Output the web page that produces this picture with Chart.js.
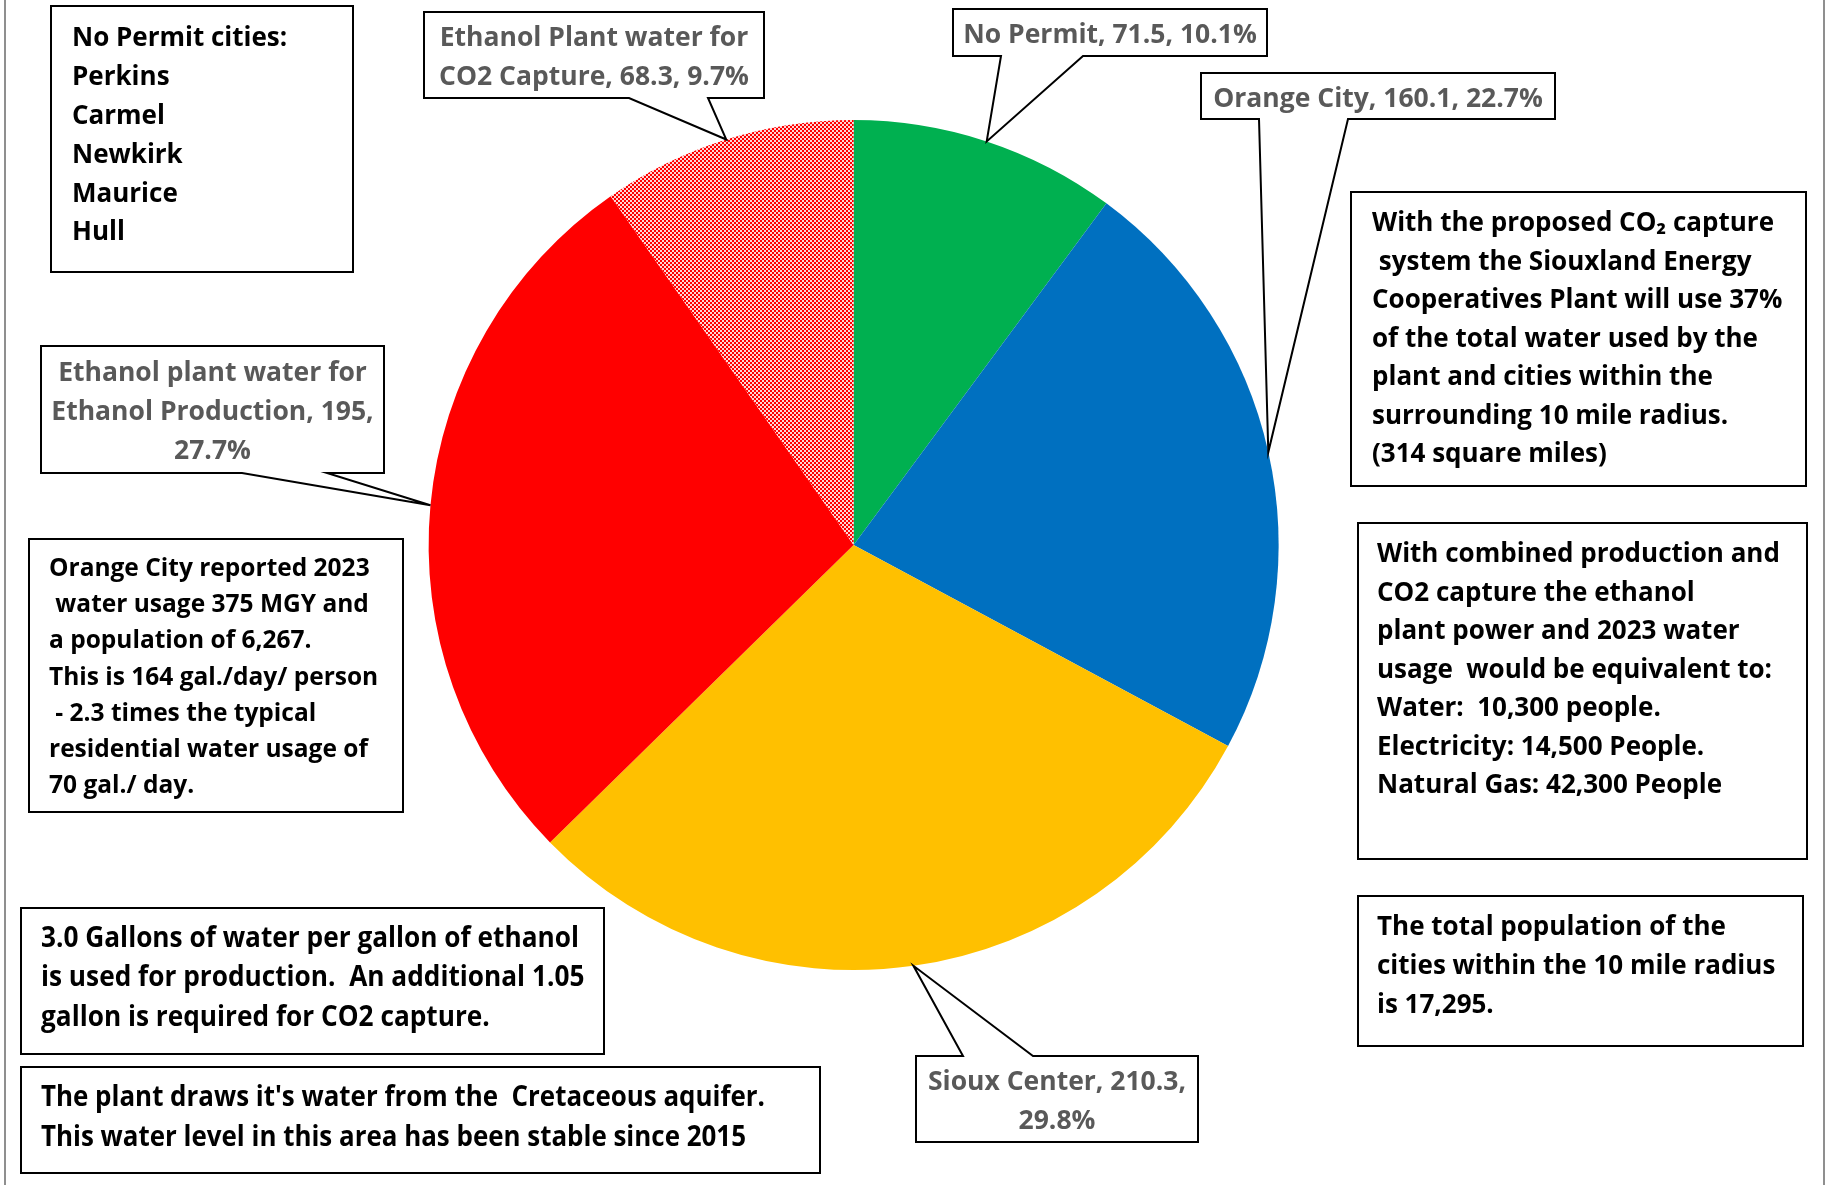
<!DOCTYPE html>
<html>
<head>
<meta charset="utf-8">
<script src="https://cdn.jsdelivr.net/npm/chart.js@4.4.1/dist/chart.umd.min.js"></script>
<style>
html, body { margin: 0; padding: 0; background: #fff; }
#caja { width: 1826px; height: 1185px; position: relative; }
</style>
</head>
<body>
<div id="caja"><canvas id="g_agua"></canvas></div>
<script>
var categorias = ["No Permit", "Orange City", "Sioux Center", "Ethanol plant water for Ethanol Production", "Ethanol Plant water for CO2 Capture"];
var valores = [71.5, 160.1, 210.3, 195, 68.3];
var colores = ["#00B050", "#0070C0", "#FFC000", "#FF0000", "patron"];

// cajas de las etiquetas (mismo orden que categorias)
var cajas_etiqueta = [
    {x: 953, y: 9, w: 314, h: 47, lado: 'abajo', b1: 1001, b2: 1083},
    {x: 1201, y: 73, w: 354, h: 46, lado: 'abajo', b1: 1259, b2: 1348},
    {x: 916, y: 1056, w: 282, h: 86, lado: 'arriba', b1: 963, b2: 1033},
    {x: 41, y: 346, w: 343, h: 127, lado: 'abajo', b1: 242, b2: 327},
    {x: 424, y: 12, w: 340, h: 86, lado: 'abajo', b1: 629, b2: 708}
];

var notas = [
    {x: 51, y: 6, w: 302, h: 266, tx: 72, ty: 39, lh: 38.8, tam: 26,
     lineas: ["No Permit cities:", "Perkins", "Carmel", "Newkirk", "Maurice", "Hull"]},
    {x: 1351, y: 192, w: 455, h: 294, tx: 1372, ty: 224, lh: 38.5, tam: 26,
     lineas: ["With the proposed CO\u2082 capture", " system the Siouxland Energy", "Cooperatives Plant will use 37%", "of the total water used by the", "plant and cities within the", "surrounding 10 mile radius.", "(314 square miles)"]},
    {x: 1358, y: 523, w: 449, h: 336, tx: 1377, ty: 555, lh: 38.5, tam: 26,
     lineas: ["With combined production and", "CO2 capture the ethanol", "plant power and 2023 water", "usage  would be equivalent to:", "Water:  10,300 people.", "Electricity: 14,500 People.", "Natural Gas: 42,300 People"]},
    {x: 1358, y: 896, w: 445, h: 150, tx: 1377, ty: 928, lh: 39, tam: 26,
     lineas: ["The total population of the", "cities within the 10 mile radius", "is 17,295."]},
    {x: 29, y: 539, w: 374, h: 273, tx: 49, ty: 569, lh: 36.2, tam: 24.5,
     lineas: ["Orange City reported 2023", " water usage 375 MGY and", "a population of 6,267.", "This is 164 gal./day/ person", " - 2.3 times the typical", "residential water usage of", "70 gal./ day."]},
    {x: 21, y: 908, w: 583, h: 146, tx: 41, ty: 939, lh: 39.5, tam: 28, ancho: 538,
     lineas: ["3.0 Gallons of water per gallon of ethanol", "is used for production.  An additional 1.05", "gallon is required for CO2 capture."]},
    {x: 21, y: 1067, w: 799, h: 106, tx: 41, ty: 1098, lh: 40, tam: 28, ancho: 724,
     lineas: ["The plant draws it's water from the  Cretaceous aquifer.", "This water level in this area has been stable since 2015"]}
];

var fuente = '"Open Sans", Lato, sans-serif';

function patron_cuadros() {
    var c = document.createElement('canvas');
    c.width = 4;
    c.height = 4;
    var cx = c.getContext('2d');
    cx.fillStyle = '#ffd6d6';
    cx.fillRect(0, 0, 4, 4);
    cx.fillStyle = '#ff0000';
    cx.fillRect(0, 0, 2, 2);
    cx.fillRect(2, 2, 2, 2);
    return cx.createPattern(c, 'repeat');
}

function partir(ctx, texto, ancho) {
    var palabras = texto.split(' ');
    var lineas = [];
    var actual = '';
    for (let i = 0; i < palabras.length; i++) {
        var prueba = actual ? actual + ' ' + palabras[i] : palabras[i];
        if (actual && ctx.measureText(prueba).width > ancho) {
            lineas.push(actual);
            actual = palabras[i];
        } else {
            actual = prueba;
        }
    }
    lineas.push(actual);
    return lineas;
}

var total = 0;
for (let i = 0; i < valores.length; i++) {
    total = total + valores[i];
}

var fondos = [];
for (let i = 0; i < colores.length; i++) {
    fondos.push(colores[i] == 'patron' ? patron_cuadros() : colores[i]);
}

var plugin_notas = {
    id: 'notas',
    afterDraw: function (chart) {
        var ctx = chart.ctx;
        ctx.save();

        // lineas grises del marco
        ctx.strokeStyle = '#8f8f8f';
        ctx.lineWidth = 2;
        ctx.beginPath();
        ctx.moveTo(5, 0); ctx.lineTo(5, 1185);
        ctx.moveTo(1824, 0); ctx.lineTo(1824, 1185);
        ctx.stroke();

        for (let i = 0; i < notas.length; i++) {
            var n = notas[i];
            ctx.fillStyle = '#fff';
            ctx.fillRect(n.x, n.y, n.w, n.h);
            ctx.strokeStyle = '#000';
            ctx.lineWidth = 2;
            ctx.strokeRect(n.x, n.y, n.w, n.h);
            ctx.fillStyle = '#000';
            ctx.font = 'bold ' + n.tam + 'px ' + fuente;
            ctx.textAlign = 'left';
            ctx.textBaseline = 'middle';
            var sx = 1;
            if (n.ancho) {
                sx = n.ancho / ctx.measureText(n.lineas[0]).width;
            }
            for (let j = 0; j < n.lineas.length; j++) {
                ctx.save();
                ctx.translate(n.tx, n.ty + j * n.lh);
                ctx.scale(sx, 1);
                ctx.fillText(n.lineas[j], 0, 0, (n.x + n.w - n.tx - 6) / sx);
                ctx.restore();
            }
        }

        var meta = chart.getDatasetMeta(0);
        ctx.font = 'bold 26.5px ' + fuente;
        for (let i = 0; i < meta.data.length; i++) {
            var arco = meta.data[i].getProps(['x', 'y', 'startAngle', 'endAngle', 'outerRadius'], true);
            var medio = (arco.startAngle + arco.endAngle) / 2;
            var px = arco.x + Math.cos(medio) * arco.outerRadius;
            var py = arco.y + Math.sin(medio) * arco.outerRadius;
            var b = cajas_etiqueta[i];

            ctx.beginPath();
            if (b.lado == 'abajo') {
                ctx.moveTo(b.x, b.y);
                ctx.lineTo(b.x + b.w, b.y);
                ctx.lineTo(b.x + b.w, b.y + b.h);
                ctx.lineTo(b.b2, b.y + b.h);
                ctx.lineTo(px, py);
                ctx.lineTo(b.b1, b.y + b.h);
                ctx.lineTo(b.x, b.y + b.h);
            } else {
                ctx.moveTo(b.x, b.y);
                ctx.lineTo(b.b1, b.y);
                ctx.lineTo(px, py);
                ctx.lineTo(b.b2, b.y);
                ctx.lineTo(b.x + b.w, b.y);
                ctx.lineTo(b.x + b.w, b.y + b.h);
                ctx.lineTo(b.x, b.y + b.h);
            }
            ctx.closePath();
            ctx.fillStyle = '#fff';
            ctx.fill();
            ctx.strokeStyle = '#000';
            ctx.lineWidth = 2;
            ctx.lineJoin = 'miter';
            ctx.stroke();

            var pct = (100 * valores[i] / total).toFixed(1);
            var texto = categorias[i] + ', ' + valores[i] + ', ' + pct + '%';
            var lineas = partir(ctx, texto, b.w - 10);
            var lh = 39;
            var cy = b.y + b.h / 2 - (lineas.length - 1) * lh / 2 + 3;
            ctx.fillStyle = '#595959';
            ctx.textAlign = 'center';
            ctx.textBaseline = 'middle';
            for (let j = 0; j < lineas.length; j++) {
                ctx.fillText(lineas[j], b.x + b.w / 2, cy + j * lh, b.w - 6);
            }
        }
        ctx.restore();
    }
};

new Chart(document.getElementById("g_agua"), {
    type: 'pie',
    data: {
        labels: categorias,
        datasets: [{
            label: 'Water use',
            data: valores,
            backgroundColor: fondos,
            borderWidth: 0
        }]
    },
    options: {
        responsive: true,
        maintainAspectRatio: false,
        animation: false,
        layout: {padding: {left: 428.6, top: 120, right: 547.4, bottom: 215}},
        plugins: {
            legend: {display: false},
            tooltip: {enabled: false},
            title: {display: false}
        }
    },
    plugins: [plugin_notas]
});
</script>
</body>
</html>
